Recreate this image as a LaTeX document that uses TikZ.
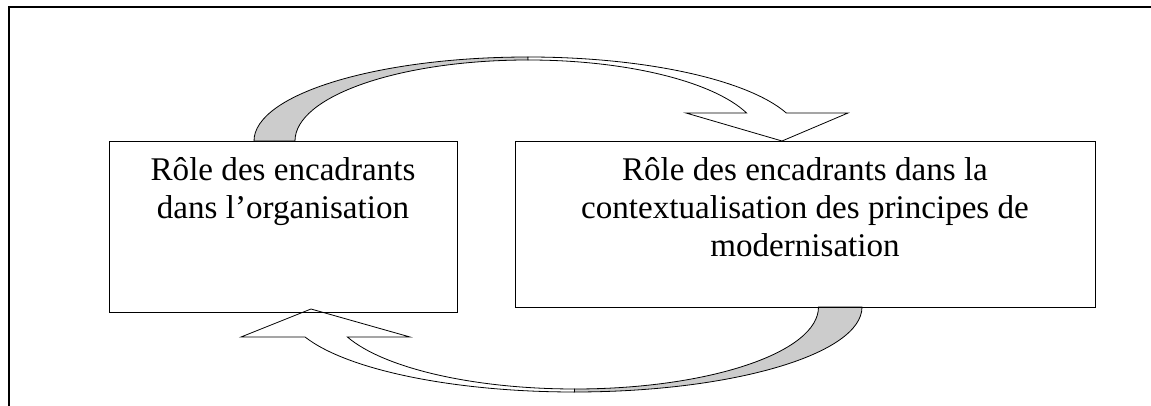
\documentclass[tikz,border=0pt]{standalone}
\usepackage{fontspec}
\setmainfont{Liberation Serif}
\usetikzlibrary{positioning}

\tikzset{
  boite/.style={draw=black, line width=0.8pt, inner sep=0pt},
  texte/.style={align=center, inner sep=0pt, anchor=north,
    font=\fontsize{33.1}{38}\selectfont},
  dos/.style={fill=gray!40, draw=black, line width=0.8pt, line join=miter},
  face/.style={fill=white, draw=black, line width=0.8pt, line join=miter},
}

\begin{document}
\begin{tikzpicture}[%
      x=1pt, y=-1pt,
      ]
      \useasboundingbox (0,0) rectangle (1151,406);
      \draw [color=black, line width=2pt] (9,410) -- (9,7) -- (1155,7);

      % fleche du haut
      \filldraw [dos] (254,141) arc[start angle=180, end angle=90, x radius=274pt, y radius=84pt]
        -- (528,60) arc[start angle=90, end angle=180, x radius=233pt, y radius=81pt] -- cycle;
      \filldraw [face] (528,57) arc[start angle=90, end angle=19.47, x radius=274pt, y radius=84pt]
        -- (848,113) -- (782,141) -- (686,113)
        -- (746.6,113) arc[start angle=20.22, end angle=90, x radius=233pt, y radius=81pt] -- cycle;

      % fleche du bas
      \filldraw [dos] (862,307) arc[start angle=0, end angle=-90, x radius=288pt, y radius=85pt]
        -- (574.5,389) arc[start angle=-90, end angle=0, x radius=244pt, y radius=82pt] -- cycle;
      \filldraw [face] (574.5,392) arc[start angle=-90, end angle=-159.34, x radius=288pt, y radius=85pt]
        -- (241,337) -- (311,309) -- (410,337)
        -- (347.4,337) arc[start angle=-158.53, end angle=-90, x radius=244pt, y radius=82pt] -- cycle;

      \node [boite, minimum width=348pt, minimum height=171pt] (orga) at (283,226.5) {};
      \node [boite, minimum width=580pt, minimum height=166pt] (moder) at (805,224) {};

      \node [texte, below=17pt of orga.north] (torga) {R\^ole des encadrants\\dans l'organisation};
      \node [texte, below=17pt of moder.north] (tmoder) {R\^ole des encadrants dans la\\contextualisation des principes de\\modernisation};
\end{tikzpicture}
\end{document}
